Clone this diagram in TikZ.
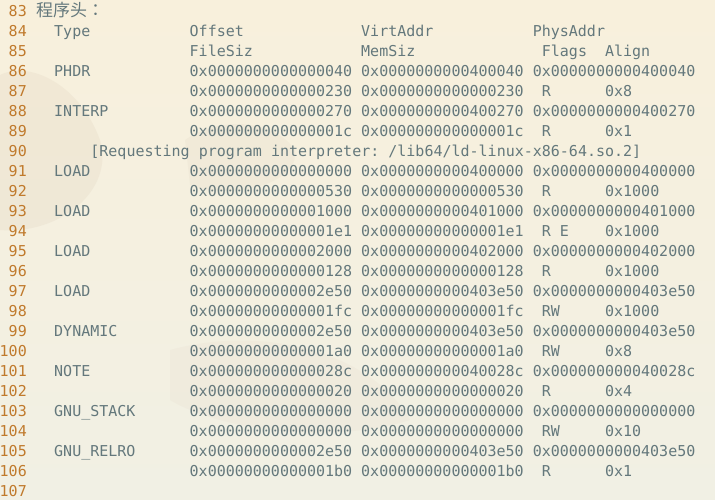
\documentclass[tikz,border=0pt]{standalone}
\usepackage{fontspec}
\setmonofont{DejaVu Sans Mono}
\newfontfamily\cjk{Noto Sans CJK JP}
\usetikzlibrary{positioning}

\definecolor{paper}{RGB}{248,240,220}
\definecolor{paperlow}{RGB}{241,240,228}
\definecolor{rock}{RGB}{205,188,165}
\definecolor{codegray}{RGB}{100,120,124}
\definecolor{lineno}{RGB}{192,122,44}

\tikzset{
  code/.style={anchor=base west, inner sep=0pt, text=codegray,
    font=\fontsize{15}{18}\selectfont\ttfamily},
  lnum/.style={anchor=base east, inner sep=0pt, text=lineno,
    font=\fontsize{15}{18}\selectfont\ttfamily},
  blob/.style={fill=rock, draw=none, opacity=0.14},
}

\begin{document}
\begin{tikzpicture}[x=1pt, y=-1pt]
    % paper and faint picture behind the listing
    \useasboundingbox (0,0) rectangle (715,499);
    \shade[top color=paper, bottom color=paperlow] (0,0) rectangle (715,499);
    \fill[blob] (0,75) .. controls (30,60) and (80,85) .. (100,140)
        .. controls (115,190) and (60,235) .. (0,230) -- cycle;
    \fill[blob, opacity=0.1] (185,140) .. controls (220,115) and (275,120) .. (295,150)
        .. controls (300,185) and (230,200) .. (190,185) -- cycle;
    \fill[blob, opacity=0.08] (170,350) .. controls (260,325) and (370,350) .. (410,420)
        .. controls (330,445) and (220,430) .. (170,400) -- cycle;

    % line numbers
    \foreach \n in {83,...,107}
        \node[lnum] (ln\n) at (27, 20*\n-1644) {\n};

    % title and column heads
    \node[code, font=\fontsize{17}{18}\selectfont\cjk] (title) at (36, 16) {程序头：};
    \node[code] (hType) at (54, 36) {Type};
    \node[code] (hOff) at (189.5, 36) {Offset};
    \node[code] (hVirt) at (361, 36) {VirtAddr};
    \node[code] (hPhys) at (532.6, 36) {PhysAddr};
    \node[code] (hFile) at (189.5, 56) {FileSiz};
    \node[code] (hMem) at (361, 56) {MemSiz};
    \node[code] (hFlags) at (541.7, 56) {Flags};
    \node[code] (hAlign) at (604.9, 56) {Align};

    % segment rows
    \foreach \n/\ty/\off/\va/\pa in {
        86/PHDR/0000000000000040/0000000000400040/0000000000400040,
        88/INTERP/0000000000000270/0000000000400270/0000000000400270,
        91/LOAD/0000000000000000/0000000000400000/0000000000400000,
        93/LOAD/0000000000001000/0000000000401000/0000000000401000,
        95/LOAD/0000000000002000/0000000000402000/0000000000402000,
        97/LOAD/0000000000002e50/0000000000403e50/0000000000403e50,
        99/DYNAMIC/0000000000002e50/0000000000403e50/0000000000403e50,
        101/NOTE/000000000000028c/000000000040028c/000000000040028c,
        103/GNU\_STACK/0000000000000000/0000000000000000/0000000000000000,
        105/GNU\_RELRO/0000000000002e50/0000000000403e50/0000000000403e50}
    {
        \node[code] (type\n) at (54, 20*\n-1644) {\ty};
        \node[code] (off\n) at (189.5, 20*\n-1644) {0x\off};
        \node[code] (virt\n) at (361, 20*\n-1644) {0x\va};
        \node[code] (phys\n) at (532.6, 20*\n-1644) {0x\pa};
    }

    % size rows
    \foreach \n/\sz/\fl/\al in {
        87/0000000000000230/R/0x8,
        89/000000000000001c/R/0x1,
        92/0000000000000530/R/0x1000,
        94/00000000000001e1/R E/0x1000,
        96/0000000000000128/R/0x1000,
        98/00000000000001fc/RW/0x1000,
        100/00000000000001a0/RW/0x8,
        102/0000000000000020/R/0x4,
        104/0000000000000000/RW/0x10,
        106/00000000000001b0/R/0x1}
    {
        \node[code] (file\n) at (189.5, 20*\n-1644) {0x\sz};
        \node[code] (mem\n) at (361, 20*\n-1644) {0x\sz};
        \node[code] (flag\n) at (541.7, 20*\n-1644) {\fl};
        \node[code] (align\n) at (604.9, 20*\n-1644) {\al};
    }

    \node[code] (interp) at (90.2, 156) {[Requesting program interpreter: /lib64/ld-linux-x86-64.so.2]};
\end{tikzpicture}
\end{document}
